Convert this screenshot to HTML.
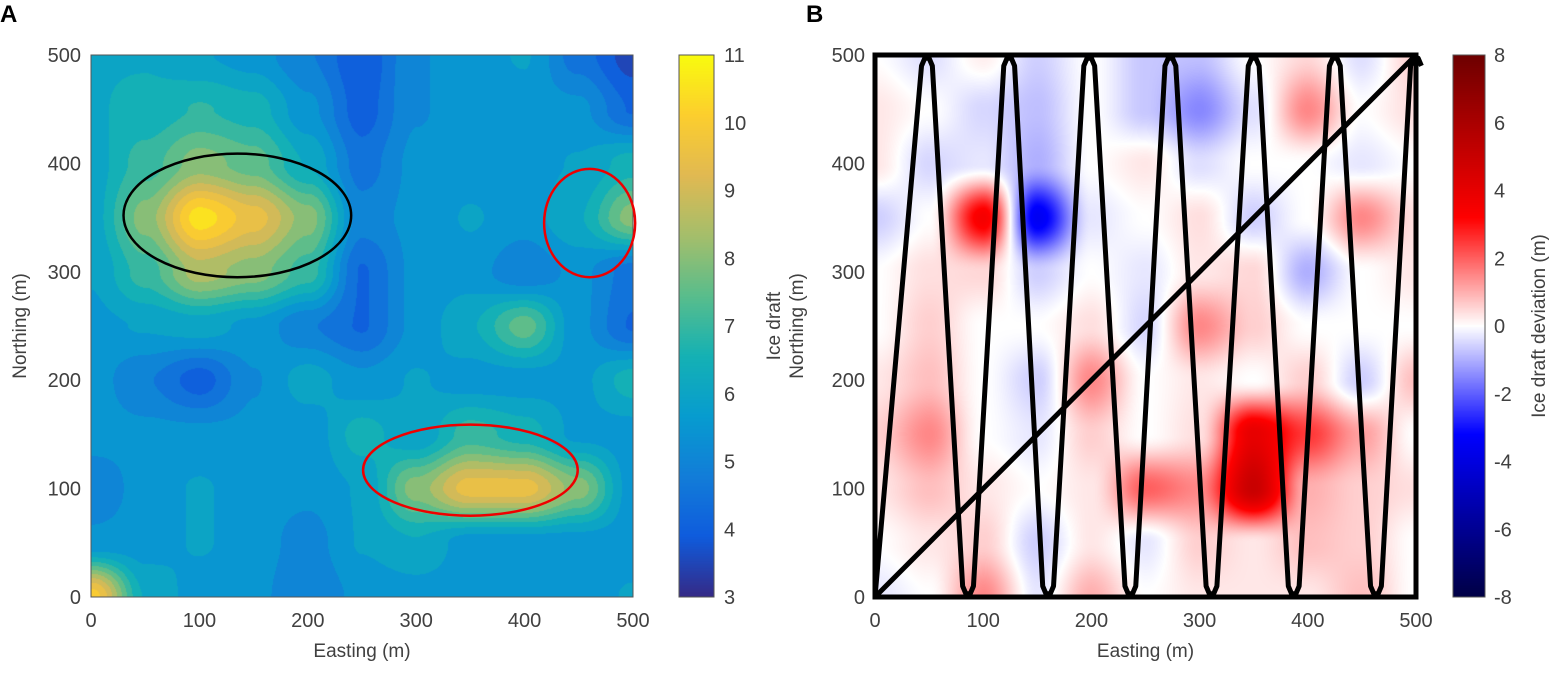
<!DOCTYPE html>
<html><head><meta charset="utf-8"><style>
body{margin:0;background:#fff;width:1556px;height:680px;overflow:hidden;font-family:"Liberation Sans",sans-serif}
svg text{font-family:"Liberation Sans",sans-serif;fill:#404040}
canvas{position:absolute}
</style></head><body>
<canvas id="ca" width="542" height="542" style="left:91px;top:55px"></canvas>
<canvas id="cb" width="541" height="542" style="left:875px;top:55px"></canvas>
<canvas id="cba" width="35" height="542" style="left:679px;top:55px"></canvas>
<canvas id="cbb" width="32" height="542" style="left:1453px;top:55px"></canvas>
<svg id="s" width="1556" height="680" style="position:absolute;left:0;top:0"></svg>
<script>
// Panel A grid: rows northing 500..0 (step 50), cols easting 0..500 (step 50)
const gridA=[
[6.2,6.2,5.8,5.5,4.8,3.8,5.2,5.5,5.8,4.5,3.5],
[6.2,6.4,6.8,6.5,5.4,4,5.2,5.5,5.5,5.4,4.2],
[6,7,8,7.5,6.2,4.5,5.4,5.5,5.5,5.8,6.5],
[6,8,10.5,9.5,8,5,5.4,5.8,5.5,6.2,8],
[5.8,7,8.5,8,7,4.2,5.4,5.5,4.8,5.4,4.5],
[5.6,5.8,6,5.6,4.8,4.2,5.4,6.2,7.5,5.4,4.2],
[5.5,4.8,4,5.2,6,5.4,5.8,5.5,5.5,5.6,6.5],
[5.5,5.4,5.4,5.4,5.4,6.5,5.8,7,6.5,5.6,5.5],
[4.8,5.5,5.8,5.5,5.4,5.8,8,9.5,9.5,8,5.5],
[5.4,5.5,5.8,5.5,5,5.8,6.2,5.5,5.5,5.5,5.5],
[10,6.2,5.5,5.4,4.8,5.4,5.5,5.5,5.5,5.5,5.8]];
// Panel B grid: deviation (m)
const gridB=[
[0,-0.4,0.2,-0.6,0,-0.7,-0.8,0,0.5,-0.4,0.6],
[0.3,0,-0.5,-0.8,0,-0.7,-1.5,-0.4,1.5,0,0.4],
[0.3,-0.5,-0.3,-1,0,0.3,-0.4,0,0,-0.3,0],
[-0.6,0,3.5,-3.5,-0.3,0,0.4,-0.6,0,1.5,0.4],
[0,0.4,0.5,-0.6,0,-0.3,0.3,0.5,-1,0,0.3],
[0,0.6,0,0,0.4,-0.5,1.5,0.6,0,0,0],
[0.3,0.8,0,-0.6,1.5,0,0.3,0,0.6,-0.6,0.8],
[0.6,1.5,0,-0.3,0.6,0,0.4,4,2.5,1.2,0],
[0.3,0.8,0.3,0,0.3,2,1.5,5,1,0.6,0.4],
[0,0.3,0.6,-0.6,0.3,-0.3,0.6,0.3,0.8,0.6,0],
[-0.3,0,1.5,-0.3,1,0,0.3,0.3,0.3,0.8,0]];
const ticksXY=[0,100,200,300,400,500];
const ticksCA=[3,4,5,6,7,8,9,10,11];
const ticksCB=[-8,-6,-4,-2,0,2,4,6,8];
const trackTops=[48,124,198,273,350,425,500];
const trackBottoms=[86,160,236,311,387,463];

const parula=[[53,42,135],[15,92,221],[18,125,216],[7,156,207],[21,177,180],[89,189,140],[165,190,107],[225,185,82],[252,206,46],[249,251,14]];
function interp(cm,t){t=Math.max(0,Math.min(1,t));const f=t*(cm.length-1),i=Math.min(cm.length-2,Math.floor(f)),r=f-i;return cm[i].map((v,k)=>v+(cm[i+1][k]-v)*r);}
const rb=[[0,0,70],[0,0,255],[255,255,255],[255,0,0],[110,0,0]];
function rbc(v){const t=(v+8)/16;const s=[0,0.3,0.5,0.7,1];let i=0;while(i<3&&t>s[i+1])i++;const r=Math.max(0,Math.min(1,(t-s[i])/(s[i+1]-s[i])));return rb[i].map((c,k)=>c+(rb[i+1][k]-c)*r);}
function sample(g,fx,fy){const n=g[0].length-1,m=g.length-1;const x=fx*n,y=fy*m;const i=Math.min(n-1,Math.floor(x)),j=Math.min(m-1,Math.floor(y));const a=x-i,b=y-j;
 const sm=t=>t*t*(3-2*t);const A=sm(a),B=sm(b);
 return g[j][i]*(1-A)*(1-B)+g[j][i+1]*A*(1-B)+g[j+1][i]*(1-A)*B+g[j+1][i+1]*A*B;}
function paint(id,g,col){const c=document.getElementById(id),x=c.getContext('2d'),W=c.width,H=c.height,im=x.createImageData(W,H);
 for(let py=0;py<H;py++)for(let px=0;px<W;px++){const v=sample(g,px/(W-1),py/(H-1));const cc=col(v);const o=(py*W+px)*4;im.data[o]=cc[0];im.data[o+1]=cc[1];im.data[o+2]=cc[2];im.data[o+3]=255;}
 x.putImageData(im,0,0);}
paint('ca',gridA,v=>interp(parula,Math.round((v-3)/0.5)*0.5/8));
paint('cb',gridB,rbc);
function bar(id,col){const c=document.getElementById(id),x=c.getContext('2d');for(let y=0;y<c.height;y++){const t=1-y/(c.height-1);x.fillStyle='rgb('+col(t).map(Math.round).join(',')+')';x.fillRect(0,y,c.width,1);}}
bar('cba',t=>interp(parula,t));bar('cbb',t=>rbc(t*16-8));

const s=document.getElementById('s'),NS='http://www.w3.org/2000/svg';
function el(tag,at,txt){const e=document.createElementNS(NS,tag);for(const k in at)e.setAttribute(k,at[k]);if(txt!=null)e.textContent=txt;s.appendChild(e);return e;}
const T=55,Bt=597;
function axes(L,R,p){
 const sx=v=>L+(v/500)*(R-L),sy=v=>Bt-(v/500)*(Bt-T);
 let e=el('rect',{x:L,y:T,width:R-L,height:Bt-T,fill:'none',stroke:'#555','stroke-width':1});
 
 ticksXY.forEach(v=>{
  e=el('text',{x:sx(v),y:Bt+30,'font-size':20,'text-anchor':'middle'},v);
  e=el('text',{x:L-10,y:sy(v)+7,'font-size':20,'text-anchor':'end'},v);
 });
 e=el('text',{x:(L+R)/2,y:Bt+60,'font-size':19,'text-anchor':'middle'},'Easting (m)');
 return [sx,sy];
}
let [ax,ay]=axes(91,633,'a');
let e=el('text',{x:26,y:326,'font-size':19,'text-anchor':'middle',transform:'rotate(-90 26 326)'},'Northing (m)');
e=el('text',{x:0,y:22,'font-size':24,'font-weight':'bold',style:'fill:#000'},'A');
e=el('text',{x:806,y:22,'font-size':24,'font-weight':'bold',style:'fill:#000'},'B');
const kx=542/500;
e=el('ellipse',{cx:ax(135),cy:ay(352),rx:105*kx,ry:57*kx,fill:'none',stroke:'#000','stroke-width':2.5});
e=el('ellipse',{cx:ax(460),cy:ay(345),rx:42*kx,ry:50*kx,fill:'none',stroke:'#e00','stroke-width':2.5});
e=el('ellipse',{cx:ax(350),cy:ay(117),rx:99*kx,ry:42*kx,fill:'none',stroke:'#e00','stroke-width':2.5});
e=el('rect',{x:679,y:55,width:35,height:542,fill:'none',stroke:'#555'});
ticksCA.forEach(v=>{const y=597-(v-3)/8*542;e=el('text',{x:724,y:y+7,'font-size':20},v);});
let [bx,by]=axes(875,1416,'b');
e=el('text',{x:780,y:326,'font-size':19,'text-anchor':'middle',transform:'rotate(-90 780 326)'},'Ice draft');
e=el('text',{x:803,y:326,'font-size':19,'text-anchor':'middle',transform:'rotate(-90 803 326)'},'Northing (m)');
e=el('rect',{x:bx(0),y:by(500),width:bx(500)-bx(0),height:by(0)-by(500),fill:'none',stroke:'#000','stroke-width':5});
let pts=[[0,0]];
trackTops.forEach((t,i)=>{pts.push([t-5,490],[t-2,497],[t+2,497],[t+5,490]);if(i<trackBottoms.length){const b=trackBottoms[i];pts.push([b-5,10],[b-2,3],[b+2,3],[b+5,10]);}});
e=el('polyline',{points:pts.map(p=>bx(p[0])+','+by(p[1])).join(' '),fill:'none',stroke:'#000','stroke-width':5,'stroke-linejoin':'round'});
e=el('line',{x1:bx(0),y1:by(0),x2:bx(500),y2:by(500),stroke:'#000','stroke-width':5});
e=el('rect',{x:1453,y:55,width:32,height:542,fill:'none',stroke:'#555'});
ticksCB.forEach(v=>{const y=597-(v+8)/16*542;e=el('text',{x:1494,y:y+7,'font-size':20},v);});
e=el('text',{x:1545,y:326,'font-size':19,'text-anchor':'middle',transform:'rotate(-90 1545 326)'},'Ice draft deviation (m)');
</script>
</body></html>
